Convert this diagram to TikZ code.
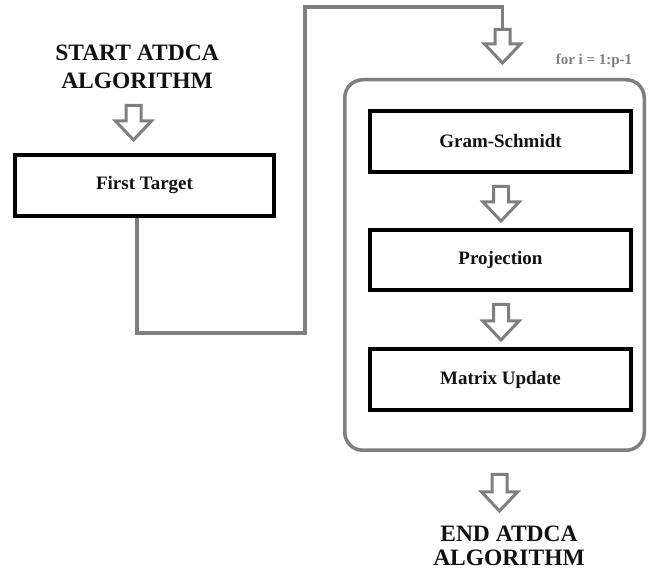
\documentclass[tikz,border=0pt]{standalone}
\usepackage{fontspec}
\setmainfont{Liberation Serif}
\usetikzlibrary{calc}
\definecolor{framegray}{HTML}{7F7F7F}
\definecolor{inkblack}{HTML}{111111}

% hollow down-pointing block arrow: x, y of shaft top, y of tip
\newcommand\hollowdown[3]{%
  \draw[hollow] (#1-7.5,#2) -- (#1+7.5,#2) -- (#1+7.5,#3-19) -- (#1+18,#3-19)
    -- (#1,#3) -- (#1-18,#3-19) -- (#1-7.5,#3-19) -- cycle;}

\begin{document}
\begin{tikzpicture}[x=1pt,y=-1pt,
  stepbox/.style={draw=black, line width=4pt, fill=white, minimum height=61pt,
    inner sep=0pt, font=\fontsize{19}{22}\selectfont\bfseries, text=inkblack},
  title/.style={align=center, text=inkblack, inner sep=0pt},
  hollow/.style={draw=framegray, line width=3pt, fill=white, line join=miter},
  conn/.style={draw=framegray, line width=3.5pt},
  loopframe/.style={draw=framegray, line width=3.5pt, rounded corners=18pt,
    minimum width=299.5pt, minimum height=370.5pt, inner sep=0pt},
  looplabel/.style={text=framegray, inner sep=0pt,
    font=\fontsize{15}{17}\selectfont\bfseries}]
\useasboundingbox (0,0) rectangle (649,572);

% start / end captions
\node[title, font=\fontsize{23.5}{28}\selectfont\bfseries] (start) at (137,67)
  {START ATDCA\\ALGORITHM};
\node[title, font=\fontsize{23.5}{24}\selectfont\bfseries] (finish) at (509,546)
  {END ATDCA\\ALGORITHM};

% first step
\node[stepbox, minimum width=259pt] (first) at (144.5,185.5) {First Target};

% loop body
\node[loopframe] (loop) at (494.5,265) {};
\node[looplabel] (looptext) at (594,61) {for i = 1:p-1};
\node[stepbox, minimum width=261pt] (gram) at (500.5,141.5) {Gram-Schmidt};
\node[stepbox, minimum width=261pt, minimum height=60pt] (proj) at (500.5,260) {Projection};
\node[stepbox, minimum width=261pt] (matrix) at (500.5,379.5) {Matrix Update};

% connector from the first step into the loop
\coordinate (j1) at (137,333);
\coordinate (j2) at (305,7);
\coordinate (a2top) at (502.5,30);
\draw[conn] (first.south -| j1) -- (j1) -| (j2) -| (a2top);

% block arrows
\hollowdown{133.5}{105.5}{140}
\hollowdown{502.5}{29.5}{63}
\hollowdown{501}{186.5}{221}
\hollowdown{501}{304.5}{340}
\hollowdown{499.5}{474.5}{511}
\end{tikzpicture}
\end{document}
